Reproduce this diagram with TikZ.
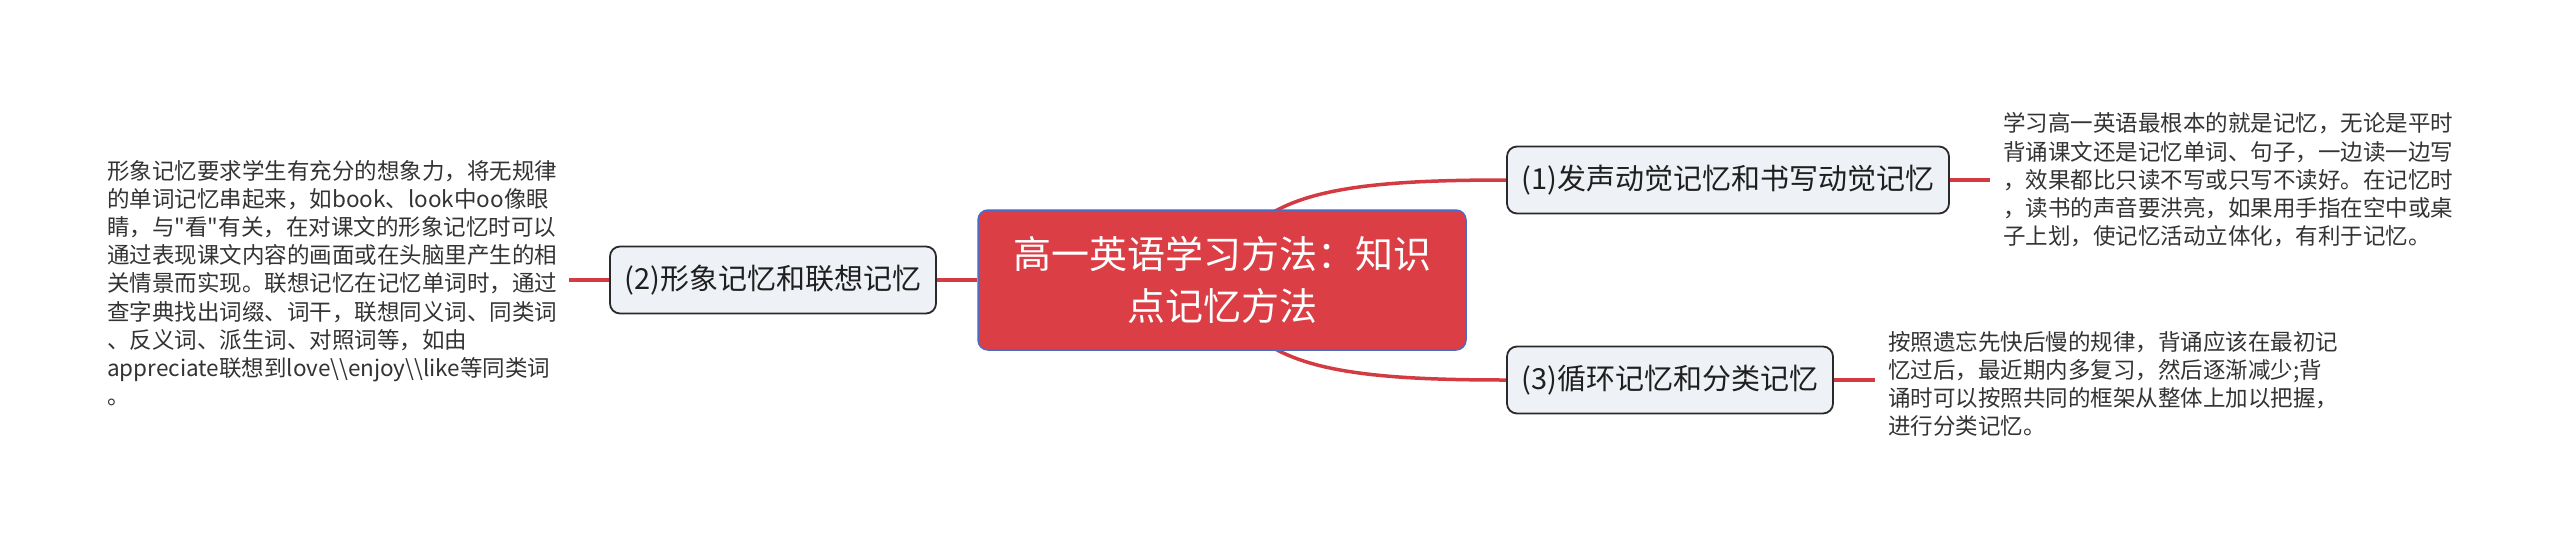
\documentclass[tikz,border=0pt]{standalone}
\usepackage{fontspec}
\setmainfont{Noto Sans CJK SC}[Ligatures=TeXOff]
\usetikzlibrary{backgrounds}
\definecolor{cred}{HTML}{DC3E45}
\definecolor{cline}{HTML}{D33A42}
\definecolor{cblue}{HTML}{4C6CC4}
\definecolor{cgray}{HTML}{EEF1F5}
\definecolor{cdark}{HTML}{2A2A2A}
\definecolor{ctext}{HTML}{333333}
\begin{document}
\begin{tikzpicture}[x=1pt,y=-1pt,
  central/.style={draw=cblue, line width=1.5pt, fill=cred, rounded corners=10pt,
    minimum width=488pt, minimum height=140pt, text=white, align=center,
    font=\fontsize{38}{52}\selectfont, inner sep=0pt},
  topic/.style={draw=cdark, line width=1.8pt, fill=cgray, rounded corners=10pt,
    minimum height=67pt, inner sep=0pt, text=black!88,
    font=\fontsize{29}{34}\selectfont},
  desc/.style={anchor=west, align=left, inner sep=0pt, text=ctext,
    font=\fontsize{22.5}{28.2}\selectfont},
  conn/.style={draw=cline, line width=3.5pt},
]
\useasboundingbox (0,0) rectangle (2560,547);

\node[central] (cen) at (1222,280) {高一英语学习方法：知识\\点记忆方法};

\node[topic, minimum width=442pt] (n1) at (1728,180) {(1)发声动觉记忆和书写动觉记忆};
\node[topic, minimum width=326pt] (n2) at (773,280) {(2)形象记忆和联想记忆};
\node[topic, minimum width=326pt] (n3) at (1670,380) {(3)循环记忆和分类记忆};

\node[desc] (t1) at (2003,180) {学习高一英语最根本的就是记忆，无论是平时\\
背诵课文还是记忆单词、句子，一边读一边写\\
，效果都比只读不写或只写不读好。在记忆时\\
，读书的声音要洪亮，如果用手指在空中或桌\\
子上划，使记忆活动立体化，有利于记忆。};

\node[desc] (t2) at (107,283) {形象记忆要求学生有充分的想象力，将无规律\\
的单词记忆串起来，如book、look中oo像眼\\
睛，与"看"有关，在对课文的形象记忆时可以\\
通过表现课文内容的画面或在头脑里产生的相\\
关情景而实现。联想记忆在记忆单词时，通过\\
查字典找出词缀、词干，联想同义词、同类词\\
、反义词、派生词、对照词等，如由\\
appreciate联想到love\textbackslash\textbackslash enjoy\textbackslash\textbackslash like等同类词\\
。};

\node[desc] (t3) at (1888,384) {按照遗忘先快后慢的规律，背诵应该在最初记\\
忆过后，最近期内多复习，然后逐渐减少;背\\
诵时可以按照共同的框架从整体上加以把握，\\
进行分类记忆。};

\begin{scope}[on background layer]
\draw[conn] (cen.center) .. controls +(23,-85) and +(-177,0) .. (n1.west);
\draw[conn] (cen.center) .. controls +(23,85) and +(-177,0) .. (n3.west);
\draw[conn] (cen.west) -- (n2.east);
\end{scope}
\draw[conn] (n1.east) -- ([xshift=-13pt]t1.west);
\draw[conn] (n3.east) -- ([xshift=-13pt]t3.west |- n3.east);
\draw[conn] ([xshift=12pt]t2.east |- n2.west) -- (n2.west);
\end{tikzpicture}
\end{document}
